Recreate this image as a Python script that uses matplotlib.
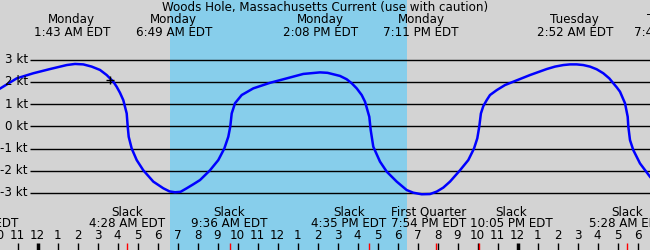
import numpy as np
import matplotlib
matplotlib.use("Agg")
import matplotlib.pyplot as plt
from matplotlib.transforms import blended_transform_factory

# hours counted from Monday 00:00 (EDT)
curve_hours = [-1.875, -1.04, -0.21, 0.625, 1.46, 1.875, 2.29, 2.71, 3.125, 3.46,
               3.625, 3.79, 3.96, 4.125, 4.29, 4.46, 4.51, 4.56, 4.71, 4.96,
               5.29, 5.79, 6.29, 6.6, 6.875, 7.15, 7.46, 7.79, 8.125, 8.625,
               9.04, 9.34, 9.54, 9.64, 9.71, 9.875, 10.21, 10.79, 11.625, 12.46,
               13.29, 14.125, 14.5, 15.125, 15.46, 15.71, 15.96, 16.21, 16.375, 16.59,
               16.66, 16.79, 17.125, 17.46, 17.96, 18.46, 18.79, 19.21, 19.625, 19.96,
               20.29, 20.625, 21.125, 21.54, 21.825, 21.99, 22.09, 22.17, 22.29, 22.46,
               22.625, 22.96, 23.375, 23.79, 24.625, 25.46, 25.875, 26.29, 26.625, 26.96,
               27.29, 27.625, 27.96, 28.29, 28.59, 28.79, 28.96, 29.125, 29.375, 29.51,
               29.54, 29.625, 29.79, 30.125, 30.625]
curve_kt = [1.70, 2.16, 2.39, 2.58, 2.76, 2.81, 2.79, 2.69, 2.54, 2.31,
            2.16, 2.01, 1.78, 1.51, 1.18, 0.58, 0.0, -0.47, -1.0, -1.52,
            -1.98, -2.49, -2.79, -2.93, -2.97, -2.95, -2.79, -2.61, -2.42, -1.98,
            -1.52, -1.0, -0.47, 0.0, 0.58, 1.04, 1.41, 1.71, 1.96, 2.16,
            2.36, 2.43, 2.41, 2.27, 2.12, 1.94, 1.71, 1.41, 1.11, 0.43,
            -0.17, -0.92, -1.59, -2.04, -2.49, -2.87, -2.99, -3.06, -3.05, -2.94,
            -2.76, -2.49, -1.98, -1.52, -1.0, -0.54, 0.0, 0.58, 0.91, 1.18,
            1.41, 1.63, 1.86, 2.01, 2.31, 2.58, 2.69, 2.76, 2.79, 2.79,
            2.76, 2.69, 2.57, 2.39, 2.16, 1.94, 1.76, 1.56, 1.04, 0.43,
            0.0, -0.62, -1.07, -1.67, -2.27]

# max flood / ebb events (top labels)
peak_hours = [1.717, 6.817, 14.133, 19.183, 26.867, 31.717]
peak_labels = ["Monday\n1:43 AM EDT", "Monday\n6:49 AM EDT", "Monday\n2:08 PM EDT",
               "Monday\n7:11 PM EDT", "Tuesday\n2:52 AM EDT", "Tuesday\n7:43 AM EDT"]

# slack water + moon phase events (bottom labels)
event_hours = [-2.85, 4.467, 9.6, 16.583, 19.9, 22.083, 29.467]
event_label_hours = [-2.85, 4.467, 9.6, 15.575, 19.55, 23.675, 29.467]
event_labels = ["Slack\n9:09 PM EDT", "Slack\n4:28 AM EDT", "Slack\n9:36 AM EDT",
                "Slack\n4:35 PM EDT", "First Quarter\n7:54 PM EDT", "Slack\n10:05 PM EDT",
                "Slack\n5:28 AM EDT"]

sunrise, sunset = 6.625, 18.46
now_hour, now_kt = 3.6, 2.1
kt_levels = [3, 2, 1, 0, -1, -2, -3]
hour_ticks = np.arange(-2, 31)

fig = plt.figure(figsize=(6.5, 2.5), dpi=100)
fig.patch.set_facecolor("#d3d3d3")
ax = fig.add_axes([0, 0, 1, 1])
ax.set_facecolor("#d3d3d3")
ax.set_xlim(-1.875, 30.625)
ax.set_ylim(-5.57, 5.69)
ax.axis("off")

# daylight
ax.axvspan(sunrise, sunset, color="#87ceeb", lw=0)

# kt grid lines
ax.hlines(kt_levels, -0.375, 30.625, color="black", lw=1.0)
for k in kt_levels:
    ax.text(-0.475, k, f"{k} kt", ha="right", va="center", fontsize=8.6)

ax.plot(curve_hours, curve_kt, color="#0000ff", lw=1.8, solid_joinstyle="round")
ax.plot([now_hour], [now_kt], marker="+", color="black", ms=6, mew=1)

# x data / y figure pixels
tr = blended_transform_factory(ax.transData, fig.transFigure)


def fy(ypix):
    return 1 - ypix / 250.0


fig.text(0.5, fy(7.5), "Woods Hole, Massachusetts Current (use with caution)",
         ha="center", va="center", fontsize=8.6)

for h, lab in zip(peak_hours, peak_labels):
    day, t = lab.split("\n")
    ax.text(h, fy(20), day, transform=tr, ha="center", va="center", fontsize=8.6)
    ax.text(h, fy(32), t, transform=tr, ha="center", va="center", fontsize=8.6)

for h, lab in zip(event_label_hours, event_labels):
    kind, t = lab.split("\n")
    ax.text(h, fy(212), kind, transform=tr, ha="center", va="center", fontsize=8.6)
    ax.text(h, fy(223.5), t, transform=tr, ha="center", va="center", fontsize=8.6)

# hour ticks
for h in hour_ticks:
    lab = str(int(h) % 12 or 12)
    ax.text(h, fy(235.5), lab, transform=tr, ha="center", va="center", fontsize=8.6)
    lw = 2.5 if int(h) % 24 == 0 else 1.0
    ax.plot([h, h], [fy(243), fy(250)], transform=tr, color="black", lw=lw,
            solid_capstyle="butt")

# red ticks for events
for h in event_hours:
    ax.plot([h, h], [fy(243), fy(250)], transform=tr, color="red", lw=1.0,
            solid_capstyle="butt")

fig.savefig("out.png", dpi=100, facecolor=fig.get_facecolor())
